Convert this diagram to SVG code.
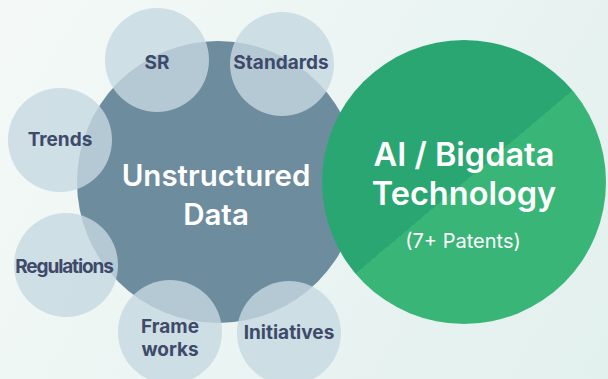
<svg xmlns="http://www.w3.org/2000/svg" width="608" height="379" viewBox="0 0 608 379">
<defs>
<linearGradient id="bg" x1="0" y1="0" x2="608" y2="379" gradientUnits="userSpaceOnUse">
<stop offset="0" stop-color="#f4f9f7"/>
<stop offset="1" stop-color="#e2f0ee"/>
</linearGradient>
<linearGradient id="green" x1="372" y1="73" x2="556" y2="291" gradientUnits="userSpaceOnUse">
<stop offset="0" stop-color="#2aa672"/>
<stop offset="0.5" stop-color="#2aa672"/>
<stop offset="0.5" stop-color="#3ab578"/>
<stop offset="1" stop-color="#3ab578"/>
</linearGradient>
<style>
.sat{fill:#c6d8e1;fill-opacity:0.8}
.st{font-family:Inter,"Liberation Sans",sans-serif;font-weight:700;font-size:19px;fill:#3e4a6a;text-anchor:middle}
.big{font-family:Inter,"Liberation Sans",sans-serif;font-weight:600;fill:#ffffff;text-anchor:middle}
</style>
</defs>
<rect width="608" height="379" fill="url(#bg)"/>
<g id="unstructured">
<circle cx="218" cy="182" r="141" fill="#6d8c9e"/>
<text class="big" x="216" y="186" font-size="29.5">Unstructured</text>
<text class="big" x="216" y="225" font-size="29.5">Data</text>
</g>
<g id="ai">
<circle cx="464" cy="182" r="142" fill="url(#green)"/>
<text class="big" x="464" y="166" font-size="32.5">AI / Bigdata</text>
<text class="big" x="464" y="205" font-size="32.5">Technology</text>
<text x="463" y="248" font-family="Inter,'Liberation Sans',sans-serif" font-size="20" fill="#ffffff" text-anchor="middle">(7+ Patents)</text>
</g>
<g id="sr">
<circle class="sat" cx="157" cy="60" r="52"/>
<text class="st" x="157" y="69">SR</text>
</g>
<g id="standards">
<circle class="sat" cx="282" cy="64" r="52"/>
<text class="st" x="281" y="69">Standards</text>
</g>
<g id="trends">
<circle class="sat" cx="60" cy="140" r="52"/>
<text class="st" x="60" y="146">Trends</text>
</g>
<g id="regulations">
<circle class="sat" cx="66" cy="265" r="52"/>
<text class="st" x="64" y="273" letter-spacing="-1.1">Regulations</text>
</g>
<g id="frameworks">
<circle class="sat" cx="170" cy="332" r="52"/>
<text class="st" x="170" y="333">Frame</text>
<text class="st" x="170" y="356">works</text>
</g>
<g id="initiatives">
<circle class="sat" cx="289" cy="333" r="52"/>
<text class="st" x="289" y="339">Initiatives</text>
</g>
<g id="connectors"></g>
</svg>
